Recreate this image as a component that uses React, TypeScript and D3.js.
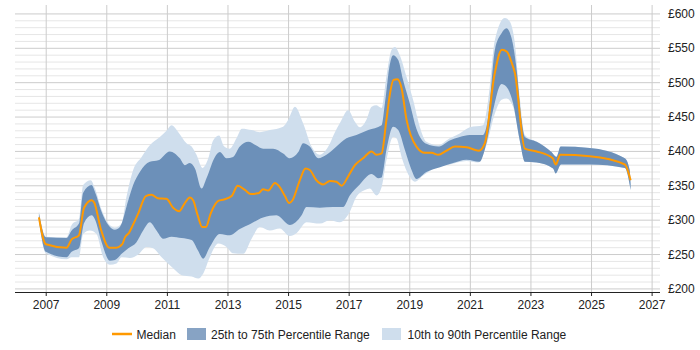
import React from 'react';
import * as d3 from 'd3';

type Pt = [number, number];

// [year, £ per day]
const median: Pt[] = [
  [2006.76, 304], [2006.99, 265], [2007.67, 260], [2007.84, 272], [2008.08, 278], [2008.25, 318],
  [2008.5, 329], [2008.58, 326], [2008.81, 286], [2009.08, 260], [2009.32, 260], [2009.51, 265],
  [2009.6, 275], [2009.74, 282], [2009.84, 291], [2010.04, 310], [2010.29, 335], [2010.48, 337],
  [2010.68, 332], [2010.97, 331], [2011.19, 318], [2011.39, 313], [2011.55, 323], [2011.74, 333],
  [2011.85, 329], [2012.0, 307], [2012.15, 290], [2012.27, 290], [2012.43, 310], [2012.68, 328],
  [2012.87, 330], [2013.12, 335], [2013.32, 350], [2013.56, 344], [2013.75, 338], [2014.0, 339],
  [2014.16, 345], [2014.33, 343], [2014.55, 354], [2014.71, 348], [2014.88, 335], [2015.02, 325],
  [2015.13, 329], [2015.37, 358], [2015.56, 375], [2015.7, 373], [2015.92, 358], [2016.14, 352],
  [2016.36, 357], [2016.58, 356], [2016.75, 350], [2016.97, 364], [2017.19, 380], [2017.46, 390],
  [2017.74, 400], [2017.9, 395], [2018.07, 397], [2018.23, 446], [2018.34, 482], [2018.46, 504],
  [2018.59, 505], [2018.73, 492], [2018.89, 447], [2019.22, 407], [2019.5, 398], [2019.72, 398],
  [2019.94, 395], [2020.21, 401], [2020.49, 407], [2020.88, 406], [2021.28, 401], [2021.48, 412],
  [2021.79, 510], [2022.04, 548], [2022.21, 545], [2022.34, 532], [2022.47, 514], [2022.8, 404],
  [2023.19, 400], [2023.72, 390], [2023.82, 381], [2023.97, 395], [2024.94, 393], [2026.1, 381],
  [2026.29, 358],
];

const p75: Pt[] = [
  [2006.76, 310], [2006.99, 275], [2007.67, 274], [2007.84, 285], [2008.08, 295], [2008.22, 340],
  [2008.5, 351], [2008.61, 341], [2008.83, 312], [2009.05, 293], [2009.27, 286], [2009.43, 290],
  [2009.71, 329], [2009.87, 351], [2010.09, 370], [2010.42, 385], [2010.7, 387], [2011.08, 400],
  [2011.41, 390], [2011.58, 380], [2011.74, 383], [2011.91, 375], [2012.13, 346], [2012.29, 361],
  [2012.57, 392], [2012.73, 399], [2012.95, 390], [2013.17, 392], [2013.39, 407], [2013.67, 414],
  [2013.92, 409], [2014.16, 404], [2014.49, 404], [2014.82, 397], [2015.04, 390], [2015.32, 399],
  [2015.48, 412], [2015.7, 407], [2015.98, 390], [2016.25, 395], [2016.58, 407], [2016.91, 419],
  [2017.24, 424], [2017.63, 431], [2018.07, 438], [2018.18, 470], [2018.34, 526], [2018.45, 540],
  [2018.62, 533], [2018.78, 504], [2019.0, 470], [2019.22, 433], [2019.55, 411], [2019.94, 407],
  [2020.32, 416], [2020.65, 421], [2020.98, 424], [2021.42, 424], [2021.59, 450], [2021.81, 548],
  [2022.03, 572], [2022.19, 579], [2022.36, 565], [2022.53, 518], [2022.69, 446], [2022.8, 421],
  [2023.19, 414], [2023.68, 399], [2023.84, 392], [2023.98, 407], [2024.94, 405], [2026.1, 390],
  [2026.26, 373], [2026.29, 352],
];

const p25: Pt[] = [
  [2006.76, 300], [2006.99, 254], [2007.67, 246], [2007.84, 254], [2008.08, 259], [2008.25, 296],
  [2008.5, 307], [2008.61, 301], [2008.83, 268], [2009.1, 241], [2009.27, 242], [2009.49, 251],
  [2009.71, 259], [2009.98, 268], [2010.2, 285], [2010.42, 297], [2010.64, 285], [2010.86, 273],
  [2011.14, 276], [2011.47, 274], [2011.8, 271], [2012.01, 256], [2012.18, 244], [2012.4, 261],
  [2012.73, 280], [2013.06, 278], [2013.39, 287], [2013.72, 294], [2014.16, 304], [2014.6, 307],
  [2015.04, 293], [2015.43, 307], [2015.59, 319], [2016.03, 318], [2016.47, 319], [2016.8, 319],
  [2017.02, 336], [2017.35, 352], [2017.74, 367], [2017.96, 361], [2018.07, 362], [2018.23, 402],
  [2018.45, 436], [2018.62, 431], [2018.84, 402], [2019.06, 373], [2019.22, 360], [2019.55, 370],
  [2020.0, 377], [2020.43, 383], [2020.87, 388], [2021.3, 385], [2021.53, 412], [2021.75, 460],
  [2022.03, 498], [2022.19, 494], [2022.41, 470], [2022.63, 416], [2022.8, 385], [2023.19, 384],
  [2023.73, 375], [2023.82, 368], [2023.99, 381], [2024.94, 381], [2026.1, 376], [2026.29, 344],
];

const p90: Pt[] = [
  [2006.76, 313], [2006.99, 276], [2007.67, 275], [2007.84, 293], [2008.08, 302], [2008.22, 351],
  [2008.47, 358], [2008.61, 346], [2008.83, 315], [2009.05, 295], [2009.27, 289], [2009.49, 295],
  [2009.65, 334], [2009.87, 373], [2010.15, 392], [2010.42, 409], [2010.75, 421], [2010.97, 430],
  [2011.14, 438], [2011.36, 428], [2011.63, 412], [2011.8, 407], [2011.96, 395], [2012.16, 376],
  [2012.35, 390], [2012.51, 416], [2012.71, 423], [2012.86, 408], [2013.06, 404], [2013.28, 419],
  [2013.46, 433], [2013.78, 431], [2014.05, 428], [2014.38, 431], [2014.82, 436], [2014.99, 446],
  [2015.21, 465], [2015.48, 441], [2015.76, 407], [2016.03, 395], [2016.31, 407], [2016.53, 428],
  [2016.69, 441], [2016.97, 460], [2017.19, 443], [2017.35, 435], [2017.57, 446], [2017.74, 465],
  [2017.9, 467], [2018.07, 463], [2018.23, 509], [2018.4, 548], [2018.51, 552], [2018.67, 540],
  [2018.89, 509], [2019.11, 475], [2019.33, 436], [2019.55, 414], [2019.94, 409], [2020.32, 419],
  [2020.65, 426], [2020.98, 435], [2021.42, 438], [2021.59, 475], [2021.81, 562], [2022.14, 594],
  [2022.3, 589], [2022.47, 557], [2022.63, 479], [2022.8, 424], [2023.19, 414], [2023.68, 399],
  [2023.84, 392], [2023.98, 407], [2024.94, 405], [2026.1, 390], [2026.26, 373], [2026.29, 352],
];

const p10: Pt[] = [
  [2006.76, 297], [2006.99, 252], [2007.67, 243], [2007.84, 246], [2008.08, 246], [2008.22, 280],
  [2008.44, 285], [2008.66, 280], [2008.88, 246], [2009.1, 235], [2009.32, 237], [2009.49, 246],
  [2009.76, 245], [2010.04, 250], [2010.31, 261], [2010.53, 259], [2010.81, 246], [2011.19, 230],
  [2011.47, 220], [2011.8, 218], [2012.02, 215], [2012.18, 222], [2012.4, 246], [2012.68, 266],
  [2012.95, 261], [2013.16, 252], [2013.5, 251], [2013.78, 273], [2014.05, 290], [2014.38, 285],
  [2014.71, 288], [2015.04, 277], [2015.26, 281], [2015.59, 297], [2016.03, 295], [2016.36, 300],
  [2016.69, 297], [2017.02, 312], [2017.24, 334], [2017.52, 344], [2017.68, 346], [2017.9, 336],
  [2018.07, 348], [2018.23, 387], [2018.45, 421], [2018.56, 419], [2018.73, 392], [2019.0, 363],
  [2019.17, 356], [2019.44, 365], [2019.88, 377], [2020.32, 381], [2020.87, 386], [2021.26, 384],
  [2021.53, 409], [2021.81, 455], [2022.03, 475], [2022.19, 477], [2022.41, 465], [2022.63, 416],
  [2022.8, 385], [2023.19, 384], [2023.73, 375], [2023.82, 368], [2023.99, 381], [2024.94, 381],
  [2026.1, 376], [2026.29, 344],
];

const xTicks = [2007, 2009, 2011, 2013, 2015, 2017, 2019, 2021, 2023, 2025, 2027];
const yTicks = [200, 250, 300, 350, 400, 450, 500, 550, 600];
const legendLabels = ['Median', '25th to 75th Percentile Range', '10th to 90th Percentile Range'];

const font = '"Liberation Sans", Arial, sans-serif';

export default function App() {
  const x = d3.scaleLinear().domain([2005.97, 2027.26]).range([15, 660]);
  const y = d3.scaleLinear().domain([195.5, 613]).range([292, 5]);

  const line = d3.line<Pt>()
    .x(d => x(d[0]))
    .y(d => y(d[1]))
    .curve(d3.curveMonotoneX);

  // upper edge forwards, lower edge backwards, closed
  const band = (upper: Pt[], lower: Pt[]) => {
    const a = line(upper) || '';
    const b = line(lower.slice().reverse()) || '';
    return a + 'L' + b.slice(1) + 'Z';
  };

  const minor = d3.range(210, 600, 10).filter(v => v % 50 !== 0);

  return (
    <svg width={700} height={350} style={{ position: 'fixed', left: 0, top: 0, background: '#fff' }}>
      <g>
        {minor.map(v => (
          <line key={'m' + v} x1={15} x2={660} y1={y(v)} y2={y(v)} stroke="#e6e6e6" strokeWidth={1} />
        ))}
        {yTicks.map(v => (
          <line key={'g' + v} x1={15} x2={660} y1={y(v)} y2={y(v)} stroke="#cccccc" strokeWidth={1} />
        ))}
        {xTicks.map(t => (
          <line key={'v' + t} x1={x(t)} x2={x(t)} y1={5} y2={292} stroke="#cccccc" strokeWidth={1} />
        ))}
      </g>

      <path d={band(p90, p10)} fill="#cfdeed" />
      <path d={band(p75, p25)} fill="#6c90b9" />
      <path d={line(median) || ''} fill="none" stroke="#ff9900" strokeWidth={2} strokeLinejoin="round" />

      <line x1={15} x2={660} y1={292.5} y2={292.5} stroke="#222" strokeWidth={1} />
      {xTicks.map(t => (
        <line key={'xt' + t} x1={x(t)} x2={x(t)} y1={292} y2={296} stroke="#222" strokeWidth={1} />
      ))}

      {xTicks.map(t => (
        <text key={'xl' + t} x={x(t)} y={308.5} textAnchor="middle" fontFamily={font} fontSize={12} fill="#222">
          {t}
        </text>
      ))}
      {yTicks.map(v => (
        <text key={'yl' + v} x={668} y={y(v) + 4} fontFamily={font} fontSize={12} fill="#222">
          {'£' + v}
        </text>
      ))}

      <g fontFamily={font} fontSize={12} fill="#222">
        <line x1={112} x2={132} y1={334} y2={334} stroke="#ff9900" strokeWidth={2.5} />
        <text x={136.5} y={338.5}>{legendLabels[0]}</text>
        <rect x={187} y={328} width={19} height={12} fill="#87a3c4" />
        <text x={211} y={338.5}>{legendLabels[1]}</text>
        <rect x={382} y={328} width={19} height={12} fill="#cfdeed" />
        <text x={407.5} y={338.5}>{legendLabels[2]}</text>
      </g>
    </svg>
  );
}
